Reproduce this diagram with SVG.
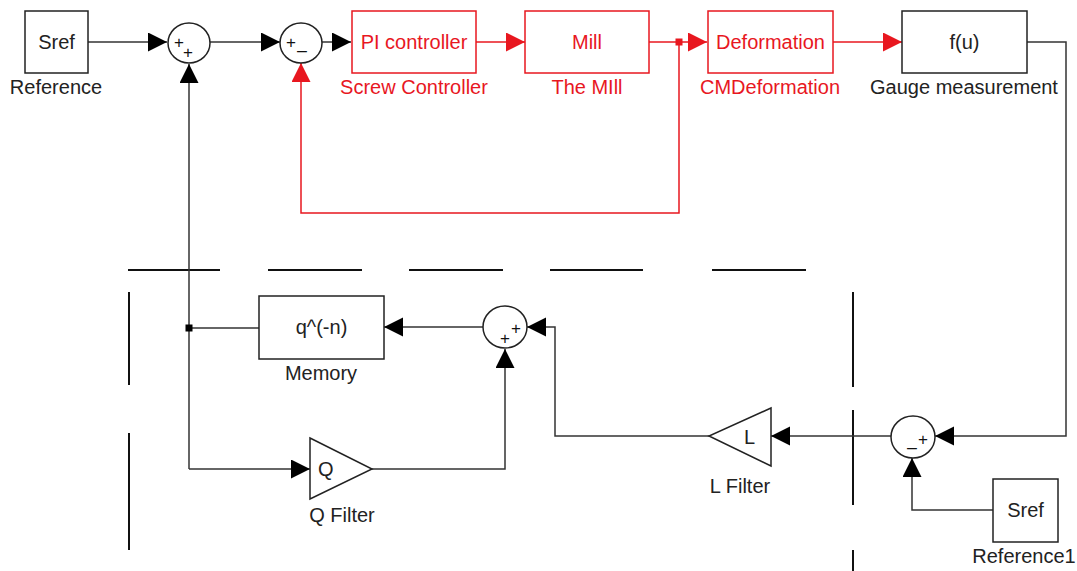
<svg xmlns="http://www.w3.org/2000/svg" width="1077" height="571" viewBox="0 0 1077 571">
  <style>
    text { font-family: "Liberation Sans", Arial, sans-serif; font-size: 20px; }
    .blk rect, .blk polygon, .blk ellipse { fill: #fff; stroke: #222; stroke-width: 1.5; }
    .red rect { fill: #fff; stroke: #e8171f; stroke-width: 1.5; }
    .lbl { text-anchor: middle; fill: #222; }
    .red .lbl { fill: #e8171f; }
    .sign { font-size: 17px; fill: #111; text-anchor: middle; }
    .wire { fill: none; stroke: #333; stroke-width: 1.5; }
    .wire-r { fill: none; stroke: #e8171f; stroke-width: 1.5; }
    .dash { stroke: #111; stroke-width: 2; }
  </style>
  <defs>
    <marker id="arr" markerUnits="userSpaceOnUse" markerWidth="20" markerHeight="20" refX="19" refY="9.5" orient="auto">
      <path d="M0,0 L19,9.5 L0,19 z" fill="#000"/>
    </marker>
    <marker id="arr-r" markerUnits="userSpaceOnUse" markerWidth="20" markerHeight="20" refX="19" refY="9.5" orient="auto">
      <path d="M0,0 L19,9.5 L0,19 z" fill="#e8171f"/>
    </marker>
  </defs>

  <!-- subsystem boundary -->
  <g id="boundary">
    <line class="dash" x1="128" y1="270" x2="220" y2="270"/>
    <line class="dash" x1="268" y1="270" x2="362" y2="270"/>
    <line class="dash" x1="409" y1="270" x2="503" y2="270"/>
    <line class="dash" x1="550" y1="270" x2="643" y2="270"/>
    <line class="dash" x1="712" y1="270" x2="806" y2="270"/>
    <line class="dash" x1="129" y1="292" x2="129" y2="385"/>
    <line class="dash" x1="129" y1="433" x2="129" y2="550"/>
    <line class="dash" x1="853" y1="292" x2="853" y2="387"/>
    <line class="dash" x1="853" y1="410" x2="853" y2="505"/>
    <line class="dash" x1="853" y1="550" x2="853" y2="571"/>
  </g>

  <g id="connectors">
    <path class="wire" d="M88,42 H167" marker-end="url(#arr)"/>
    <path class="wire" d="M210,42 H280" marker-end="url(#arr)"/>
    <path class="wire" d="M322,42 H351" marker-end="url(#arr)"/>
    <path class="wire-r" d="M476,42 H525" marker-end="url(#arr-r)"/>
    <path class="wire-r" d="M649,42 H707" marker-end="url(#arr-r)"/>
    <path class="wire-r" d="M833,42 H902" marker-end="url(#arr-r)"/>
    <path class="wire-r" d="M679,42 V213 H301 V63" marker-end="url(#arr-r)"/>
    <path class="wire" d="M1027,42 H1066 V436 H935" marker-end="url(#arr)"/>
    <path class="wire" d="M891,436 H771" marker-end="url(#arr)"/>
    <path class="wire" d="M993,510 H912 V458" marker-end="url(#arr)"/>
    <path class="wire" d="M709,436 H555 V327 H527" marker-end="url(#arr)"/>
    <path class="wire" d="M483,327 H384" marker-end="url(#arr)"/>
    <path class="wire" d="M259,328 H189"/>
    <path class="wire" d="M189,469 V64" marker-end="url(#arr)"/>
    <path class="wire" d="M189,469 H310" marker-end="url(#arr)"/>
    <path class="wire" d="M372,469 H505 V349" marker-end="url(#arr)"/>
    <rect x="675.5" y="38.5" width="7" height="7" fill="#e8171f"/>
    <rect x="185.5" y="324.5" width="7" height="7" fill="#000"/>
  </g>

  <g id="sref" class="blk">
    <rect x="25" y="11" width="63" height="62"/>
    <text class="lbl" x="56.5" y="49">Sref</text>
    <text class="lbl" x="56" y="94">Reference</text>
  </g>

  <g id="sum1" class="blk">
    <ellipse cx="189" cy="43" rx="21" ry="20"/>
    <text class="sign" x="179" y="48">+</text>
    <text class="sign" x="188" y="58">+</text>
  </g>

  <g id="sum2" class="blk">
    <ellipse cx="301" cy="43" rx="21" ry="20"/>
    <text class="sign" x="291" y="48">+</text>
    <text class="sign" x="302" y="49">_</text>
  </g>

  <g id="pi-controller" class="red">
    <rect x="352" y="11" width="124" height="62"/>
    <text class="lbl" x="414" y="49">PI controller</text>
    <text class="lbl" x="414" y="94">Screw Controller</text>
  </g>

  <g id="mill" class="red">
    <rect x="525" y="11" width="124" height="62"/>
    <text class="lbl" x="587" y="49">Mill</text>
    <text class="lbl" x="587" y="94">The MIll</text>
  </g>

  <g id="deformation" class="red">
    <rect x="708" y="11" width="125" height="62"/>
    <text class="lbl" x="770.5" y="49">Deformation</text>
    <text class="lbl" x="770" y="94">CMDeformation</text>
  </g>

  <g id="gauge" class="blk">
    <rect x="902" y="11" width="125" height="62"/>
    <text class="lbl" x="964.5" y="49">f(u)</text>
    <text class="lbl" x="964" y="94">Gauge measurement</text>
  </g>

  <g id="memory" class="blk">
    <rect x="259" y="296" width="125" height="63"/>
    <text class="lbl" x="321.5" y="334">q^(-n)</text>
    <text class="lbl" x="321" y="380">Memory</text>
  </g>

  <g id="sum4" class="blk">
    <ellipse cx="505" cy="327" rx="22" ry="21"/>
    <text class="sign" x="505" y="344">+</text>
    <text class="sign" x="516" y="334">+</text>
  </g>

  <g id="q-filter" class="blk">
    <polygon points="310,438 372,469 310,499"/>
    <text x="318" y="476" style="fill:#222">Q</text>
    <text class="lbl" x="342" y="522">Q Filter</text>
  </g>

  <g id="l-filter" class="blk">
    <polygon points="771,408 709,436 771,466"/>
    <text x="744" y="444" style="fill:#222">L</text>
    <text class="lbl" x="740" y="493">L Filter</text>
  </g>

  <g id="sum3" class="blk">
    <ellipse cx="913" cy="437" rx="22" ry="21"/>
    <text class="sign" x="912" y="446">_</text>
    <text class="sign" x="923" y="445">+</text>
  </g>

  <g id="sref1" class="blk">
    <rect x="993" y="479" width="65" height="63"/>
    <text class="lbl" x="1025.5" y="517">Sref</text>
    <text class="lbl" x="1024" y="563">Reference1</text>
  </g>
</svg>
